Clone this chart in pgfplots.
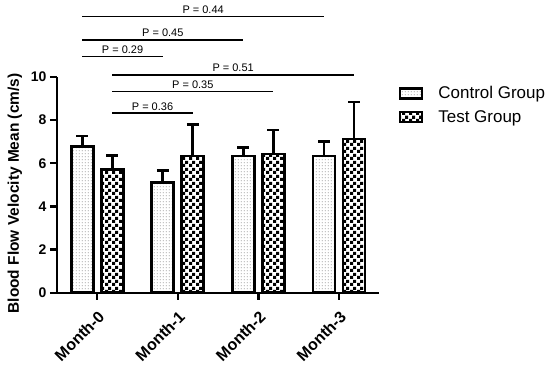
\documentclass[border=0pt]{standalone}
\usepackage{pgfplots}
\pgfplotsset{compat=1.18}
\usepackage{fontspec}
\setmainfont{Liberation Sans}
\usetikzlibrary{patterns}
\pgfdeclarepatternformonly{mychecker}{\pgfqpoint{0pt}{0pt}}{\pgfqpoint{6.6pt}{6.6pt}}{\pgfqpoint{6.6pt}{6.6pt}}{%
  \pgfpathrectangle{\pgfqpoint{0pt}{0pt}}{\pgfqpoint{3.3pt}{3.3pt}}%
  \pgfpathrectangle{\pgfqpoint{3.3pt}{3.3pt}}{\pgfqpoint{3.3pt}{3.3pt}}%
  \pgfusepath{fill}}
\pgfdeclarepatternformonly{mydots}{\pgfqpoint{0pt}{0pt}}{\pgfqpoint{3.3pt}{3.3pt}}{\pgfqpoint{3.3pt}{3.3pt}}{%
  \pgfpathrectangle{\pgfqpoint{1pt}{1pt}}{\pgfqpoint{1pt}{1pt}}%
  \pgfusepath{fill}}
\begin{document}
\begin{tikzpicture}
\begin{axis}[
  scale only axis, width=323pt, height=216.3pt,
  xmin=-0.5, xmax=3.5, ymin=0, ymax=10,
  axis x line*=bottom, axis y line*=left,
  axis line style={line width=2.5pt, black},
  clip=false,
  xtick={0,1,2,3},
  xticklabels={Month-0,Month-1,Month-2,Month-3},
  ytick={0,2,4,6,8,10},
  tick align=outside, major tick length=7pt,
  every tick/.style={black, line width=2.5pt},
  /pgf/number format/assume math mode=true,
  yticklabel style={font=\bfseries\fontsize{14}{16}\selectfont},
  xticklabel style={font=\bfseries\fontsize{16}{18}\selectfont, rotate=45, anchor=north east, inner sep=2pt, yshift=-5pt, xshift=-5pt},
  ylabel={Blood Flow Velocity Mean (cm/s)},
  ylabel style={font=\bfseries\fontsize{15.5}{18}\selectfont, at={(axis description cs:-0.130,0.46)}, anchor=center},
  legend style={at={(rel axis cs:1.05,0.975)}, anchor=north west, draw=none, fill=none,
    font=\fontsize{17}{20}\selectfont, row sep=6pt, /tikz/column 1/.style={column sep=13pt}},
  legend cell align=left,
  legend image code/.code={\draw[#1, line width=2.8pt] (0pt,-5pt) rectangle (22pt,5pt);},
]
\addplot[ybar, bar width=22pt, bar shift=0pt, draw=black, line width=2.8pt,
  pattern=mydots, pattern color=black!55,
  error bars/.cd, y dir=plus, y explicit,
  error bar style={line width=2.8pt, black, solid},
  error mark options={rotate=90, line width=2.8pt, mark size=6pt, black}]
  coordinates {(-0.186,6.78) +- (0,0.48) (0.814,5.12) +- (0,0.54) (1.814,6.34) +- (0,0.38) (2.814,6.34) +- (0,0.66)};
\addlegendentry{Control Group}
\addplot[ybar, bar width=22pt, bar shift=0pt, draw=black, line width=2.8pt,
  pattern=mychecker, pattern color=black,
  error bars/.cd, y dir=plus, y explicit,
  error bar style={line width=2.8pt, black, solid},
  error mark options={rotate=90, line width=2.8pt, mark size=6pt, black}]
  coordinates {(0.186,5.72) +- (0,0.63) (1.186,6.34) +- (0,1.47) (2.186,6.43) +- (0,1.11) (3.186,7.12) +- (0,1.72)};
\addlegendentry{Test Group}
\addplot[forget plot, sharp plot, no marks, black, line width=1.5pt] coordinates {(-0.186,12.79) (2.814,12.79)}
  node[pos=0.5, anchor=base, yshift=3pt, font=\fontsize{11}{13}\selectfont] {P = 0.44};
\addplot[forget plot, sharp plot, no marks, black, line width=1.5pt] coordinates {(-0.186,11.71) (1.814,11.71)}
  node[pos=0.5, anchor=base, yshift=3pt, font=\fontsize{11}{13}\selectfont] {P = 0.45};
\addplot[forget plot, sharp plot, no marks, black, line width=1.5pt] coordinates {(-0.186,10.94) (0.814,10.94)}
  node[pos=0.5, anchor=base, yshift=3pt, font=\fontsize{11}{13}\selectfont] {P = 0.29};
\addplot[forget plot, sharp plot, no marks, black, line width=1.5pt] coordinates {(0.186,10.09) (3.186,10.09)}
  node[pos=0.5, anchor=base, yshift=3pt, font=\fontsize{11}{13}\selectfont] {P = 0.51};
\addplot[forget plot, sharp plot, no marks, black, line width=1.5pt] coordinates {(0.186,9.32) (2.186,9.32)}
  node[pos=0.5, anchor=base, yshift=3pt, font=\fontsize{11}{13}\selectfont] {P = 0.35};
\addplot[forget plot, sharp plot, no marks, black, line width=1.5pt] coordinates {(0.186,8.32) (1.186,8.32)}
  node[pos=0.5, anchor=base, yshift=3pt, font=\fontsize{11}{13}\selectfont] {P = 0.36};
\path (rel axis cs:-0.1765,-0.336) rectangle (rel axis cs:1.5263,1.356);
\end{axis}
\end{tikzpicture}
\end{document}
